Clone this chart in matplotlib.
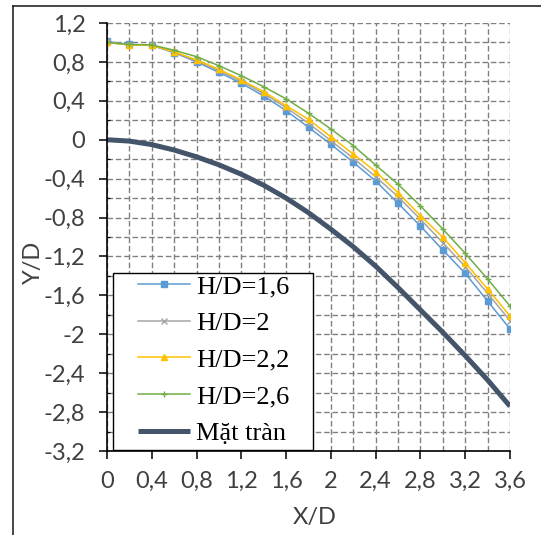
import matplotlib
matplotlib.use("Agg")
import matplotlib.pyplot as plt
from matplotlib.ticker import MultipleLocator, FuncFormatter
from matplotlib.lines import Line2D
from matplotlib.patches import Rectangle

plt.rcParams["font.family"] = ["Lato", "DejaVu Sans"]

# X/D positions of the measured points
x_d = [0, 0.2, 0.4, 0.6, 0.8, 1.0, 1.2, 1.4, 1.6, 1.8, 2.0,
       2.2, 2.4, 2.6, 2.8, 3.0, 3.2, 3.4, 3.6]

# Y/D of the nappe for each H/D
hd_16 = [1.01, 0.98, 0.97, 0.895, 0.80, 0.693, 0.58, 0.45, 0.298, 0.128, -0.047,
         -0.232, -0.424, -0.654, -0.887, -1.134, -1.374, -1.658, -1.946]
hd_20 = [1.0, 0.975, 0.97, 0.90, 0.81, 0.71, 0.60, 0.475, 0.33, 0.17, -0.01,
         -0.19, -0.38, -0.586, -0.818, -1.059, -1.305, -1.579, -1.86]
hd_22 = [1.0, 0.975, 0.97, 0.905, 0.82, 0.724, 0.614, 0.494, 0.35, 0.21, 0.031,
         -0.147, -0.329, -0.545, -0.781, -1.003, -1.264, -1.535, -1.812]
hd_26 = [1.0, 0.98, 0.975, 0.92, 0.854, 0.761, 0.658, 0.545, 0.42, 0.272, 0.11,
         -0.061, -0.26, -0.458, -0.681, -0.918, -1.168, -1.432, -1.71]
# spillway crest surface
mat_tran = [0, -0.014, -0.05, -0.106, -0.176, -0.258, -0.355, -0.468, -0.6, -0.75, -0.92,
            -1.10, -1.30, -1.52, -1.75, -1.98, -2.22, -2.47, -2.74]

labels = ["H/D=1,6", "H/D=2", "H/D=2,2", "H/D=2,6", "Mặt tràn"]
colors = ["#5B9BD5", "#A5A5A5", "#FFC000", "#70AD47", "#44546A"]
markers = ["s", "x", "^", "+"]

fig = plt.figure(figsize=(5.41, 5.35), dpi=100)
ax = fig.add_axes([0.1978, 0.157, 0.7449, 0.800])

series = [hd_16, hd_20, hd_22, hd_26]
for ys, lab, col, mk in zip(series, labels, colors, markers):
    ax.plot(x_d, ys, color=col, lw=1.1, marker=mk, ms=4, mew=1.0, label=lab)
ax.plot(x_d, mat_tran, color=colors[4], lw=3.6, label=labels[4], solid_capstyle="butt")

ax.set_xlim(0, 3.6)
ax.set_ylim(-3.2, 1.2)
ax.xaxis.set_major_locator(MultipleLocator(0.4))
ax.xaxis.set_minor_locator(MultipleLocator(0.2))
ax.yaxis.set_major_locator(MultipleLocator(0.4))
ax.yaxis.set_minor_locator(MultipleLocator(0.2))


def comma(v, pos):
    s = f"{v:.1f}"
    if s.endswith(".0"):
        s = s[:-2]
    if s == "-0":
        s = "0"
    return s.replace(".", ",")


ax.xaxis.set_major_formatter(FuncFormatter(comma))
ax.yaxis.set_major_formatter(FuncFormatter(comma))

ax.set_axisbelow(True)
ax.grid(which="both", color="#808080", ls=(0, (4, 2)), lw=1.0)

for s in ["top", "right"]:
    ax.spines[s].set_visible(False)
for s in ["left", "bottom"]:
    ax.spines[s].set_color("#000000")
    ax.spines[s].set_linewidth(1.2)

ax.tick_params(axis="both", which="major", direction="out", length=5.5, width=1.1,
               labelsize=17, colors="#000000", labelcolor="#404040")
ax.tick_params(axis="x", which="major", pad=9)
ax.tick_params(axis="y", which="major", pad=10)
ax.tick_params(axis="x", which="minor", length=0)
ax.tick_params(axis="y", which="minor", direction="in", length=2.5, width=0.8, colors="#000000")

ax.set_xlabel("X/D", fontsize=17, color="#404040")
ax.set_ylabel("Y/D", fontsize=17, color="#404040")
ax.xaxis.set_label_coords(0.516, -0.155)
ax.yaxis.set_label_coords(-0.183, 0.44)
ax.yaxis.label.set_va("center")
ax.xaxis.label.set_va("center")

# legend box: Excel draws it wider than its content, so the frame is drawn separately
ax.add_patch(Rectangle((0.0149, 0.0023), 0.496, 0.414, transform=ax.transAxes,
                       facecolor="white", edgecolor="#000000", lw=1.0, zorder=4.5))
leg = ax.legend(loc="upper left", bbox_to_anchor=(0.0769, 0.412),
                borderaxespad=0, prop={"family": "Liberation Serif", "size": 19}, numpoints=1,
                frameon=False, handlelength=1.97, handletextpad=0.23,
                labelspacing=0.5, borderpad=0)
leg.set_zorder(5)

# outer chart border (only left and top edges are inside the picture)
fig.add_artist(Line2D([0.024, 0.024], [0.0, 0.9888], color="#262626", lw=1.2,
                      transform=fig.transFigure))
fig.add_artist(Line2D([0.024, 1.0], [0.9888, 0.9888], color="#262626", lw=1.2,
                      transform=fig.transFigure))

fig.savefig("out.png", dpi=100)
